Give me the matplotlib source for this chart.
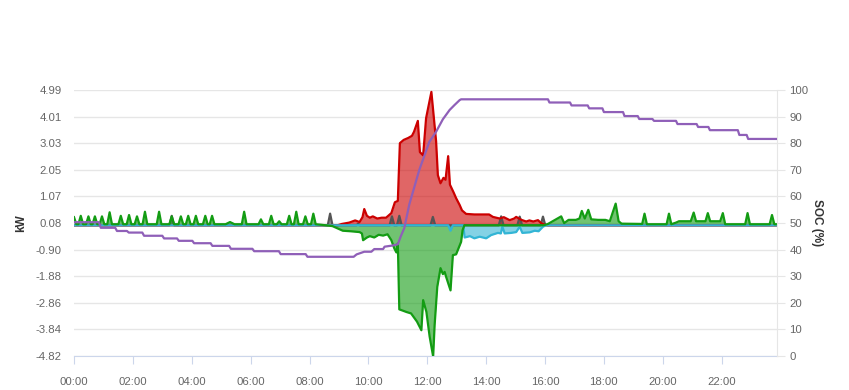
import numpy as np
import matplotlib
matplotlib.use("Agg")
import matplotlib.pyplot as plt

plt.rcParams['font.family'] = ['Liberation Sans', 'DejaVu Sans']

# time in hours, values in kW
red_t = [0, 8.95, 9.10, 9.35, 9.55, 9.70, 9.80, 9.86, 9.95, 10.05, 10.15, 10.30, 10.45, 10.60,
         10.78, 10.90, 11.00, 11.07, 11.20, 11.35, 11.48, 11.55, 11.68, 11.75, 11.86, 11.96,
         12.14, 12.30, 12.36, 12.45, 12.55, 12.62, 12.71, 12.77, 12.90, 12.98, 13.10, 13.18,
         13.32, 13.60, 13.90, 14.10, 14.23, 14.46, 14.60, 14.80, 14.95, 15.02, 15.20, 15.36,
         15.47, 15.60, 15.76, 15.87, 15.99, 16.10, 23.92]
red_v = [0, 0, 0.05, 0.10, 0.18, 0.12, 0.30, 0.60, 0.35, 0.28, 0.33, 0.25, 0.28, 0.28,
         0.45, 0.85, 0.90, 3.03, 3.15, 3.22, 3.30, 3.45, 3.85, 2.70, 2.58, 3.95,
         4.92, 3.10, 1.85, 1.55, 1.75, 1.68, 2.55, 1.50, 1.20, 1.00, 0.75, 0.55,
         0.42, 0.40, 0.40, 0.40, 0.31, 0.25, 0.30, 0.19, 0.25, 0.31, 0.20, 0.14,
         0.18, 0.14, 0.19, 0.08, 0.02, 0, 0]

green_t = [0.00, 0.08, 0.15, 0.23, 0.31, 0.41, 0.49, 0.57, 0.63, 0.71, 0.79, 0.87, 0.95, 1.03,
           1.13, 1.21, 1.29, 1.51, 1.59, 1.67, 1.79, 1.87, 1.95, 2.06, 2.14, 2.22, 2.33, 2.41,
           2.49, 2.81, 2.89, 2.97, 3.24, 3.32, 3.40, 3.55, 3.63, 3.71, 3.80, 3.88, 3.96, 4.06,
           4.14, 4.22, 4.38, 4.46, 4.54, 4.61, 4.69, 4.77, 5.15, 5.30, 5.45, 5.70, 5.78, 5.86,
           6.27, 6.35, 6.43, 6.62, 6.70, 6.78, 6.89, 6.97, 7.05, 7.23, 7.31, 7.39, 7.47, 7.55,
           7.63, 7.78, 7.86, 7.94, 8.05, 8.13, 8.21, 8.40, 8.78, 9.13, 9.40, 9.70, 9.78, 9.82,
           9.95, 10.05, 10.20, 10.35, 10.50, 10.65, 10.78, 10.88, 10.95, 11.00, 11.05, 11.30,
           11.45, 11.65, 11.80, 11.86, 11.97, 12.08, 12.20, 12.25, 12.34, 12.45, 12.53, 12.59,
           12.64, 12.79, 12.87, 12.98, 13.06, 13.15, 13.20, 13.26, 15.95, 16.10, 16.55, 16.65,
           16.80, 17.05, 17.17, 17.25, 17.35, 17.47, 17.57, 17.80, 18.05, 18.20, 18.40, 18.50,
           18.60, 19.30, 19.38, 19.46, 20.13, 20.21, 20.29, 20.45, 20.55, 20.95, 21.05, 21.13,
           21.45, 21.53, 21.61, 21.95, 22.04, 22.12, 22.80, 22.88, 22.96, 23.63, 23.71, 23.79,
           23.92]
green_v = [0.30, 0.04, 0.04, 0.35, 0.04, 0.04, 0.33, 0.04, 0.04, 0.33, 0.04, 0.04, 0.33, 0.04,
           0.04, 0.48, 0.04, 0.04, 0.35, 0.04, 0.04, 0.38, 0.04, 0.04, 0.33, 0.04, 0.04, 0.50,
           0.04, 0.04, 0.50, 0.04, 0.04, 0.33, 0.04, 0.04, 0.33, 0.04, 0.04, 0.35, 0.04, 0.04,
           0.35, 0.04, 0.04, 0.35, 0.04, 0.04, 0.35, 0.04, 0.04, 0.12, 0.04, 0.04, 0.50, 0.04,
           0.04, 0.22, 0.04, 0.04, 0.35, 0.04, 0.04, 0.15, 0.04, 0.04, 0.35, 0.04, 0.04, 0.50,
           0.04, 0.04, 0.33, 0.04, 0.04, 0.43, 0.04, 0.02, -0.03, -0.20, -0.22, -0.25, -0.30, -0.55,
           -0.45, -0.40, -0.45, -0.35, -0.38, -0.33, -0.55, -0.85, -1.00, -0.67, -3.10, -3.20,
           -3.25, -3.55, -3.87, -2.76, -3.19, -4.10, -4.84, -3.68, -2.27, -1.58, -1.80, -1.72,
           -1.90, -2.40, -1.10, -1.07, -0.85, -0.61, -0.18, 0.0, 0.0, 0.05, 0.33, 0.08,
           0.20, 0.20, 0.25, 0.53, 0.25, 0.57, 0.22, 0.20, 0.20, 0.15, 0.80, 0.15,
           0.06, 0.05, 0.43, 0.04, 0.04, 0.43, 0.04, 0.10, 0.15, 0.15, 0.47, 0.15,
           0.15, 0.45, 0.15, 0.15, 0.45, 0.04, 0.04, 0.45, 0.04, 0.04, 0.38, 0.04,
           0.04]

cyan_t = [0, 12.71, 12.79, 12.87, 13.22, 13.27, 13.45, 13.60, 13.78, 14.00, 14.17, 14.40, 14.50,
          14.55, 14.63, 14.85, 15.02, 15.14, 15.23, 15.48, 15.65, 15.78, 15.93, 16.04, 23.92]
cyan_v = [0, 0, -0.20, 0, 0, -0.45, -0.40, -0.48, -0.42, -0.48, -0.36, -0.28, -0.30,
          -0.05, -0.30, -0.28, -0.25, -0.05, -0.28, -0.26, -0.20, -0.22, -0.05, 0, 0]

gray_t = [0, 3.24, 3.32, 3.40, 8.62, 8.70, 8.78, 9.60, 9.65, 9.70, 10.72, 10.80, 10.88,
          10.97, 11.05, 11.13, 12.11, 12.19, 12.27, 14.43, 14.51, 14.59, 15.06, 15.14, 15.22,
          15.85, 15.93, 16.01, 23.92]
gray_v = [0, 0, 0.35, 0, 0, 0.43, 0, 0, 0.06, 0, 0, 0.33, 0,
          0, 0.35, 0, 0, 0.31, 0, 0, 0.33, 0, 0, 0.32, 0,
          0, 0.32, 0, 0]

# state of charge, %
soc_t = [0, 0.85, 0.91, 1.40, 1.46, 1.80, 1.86, 2.32, 2.38, 3.00, 3.06, 3.50, 3.56, 4.02,
         4.08, 4.64, 4.70, 5.27, 5.33, 6.06, 6.12, 6.96, 7.02, 7.87, 7.93, 9.50, 9.60, 9.86,
         10.10, 10.20, 10.50, 10.55, 10.80, 11.00, 11.10, 11.22, 11.39, 11.73, 12.07, 12.30,
         12.53, 12.76, 12.93, 13.10, 13.15, 16.10, 16.15, 16.85, 16.90, 17.45, 17.50, 17.95,
         18.00, 18.65, 18.70, 19.15, 19.20, 19.65, 19.70, 20.45, 20.50, 21.15, 21.20, 21.55,
         21.60, 22.55, 22.60, 22.85, 22.90, 23.92]
soc_v = [50.3, 50.3, 48.2, 48.2, 47.0, 47.0, 46.4, 46.4, 45.2, 45.2, 44.2, 44.2, 43.3, 43.3,
         42.4, 42.4, 41.4, 41.4, 40.3, 40.3, 39.4, 39.4, 38.3, 38.3, 37.3, 37.3, 38.2, 39.2,
         39.2, 40.2, 40.2, 41.1, 41.5, 42.0, 45.0, 48.1, 57.0, 70.0, 80.5, 84.3,
         89.0, 92.5, 94.4, 96.2, 96.5, 96.5, 95.3, 95.3, 94.2, 94.2, 93.1, 93.1,
         91.7, 91.7, 90.2, 90.2, 89.1, 89.1, 88.4, 88.4, 87.2, 87.2, 86.1, 86.1,
         84.9, 84.9, 83.1, 83.1, 81.6, 81.6]

kw_ticks = [-4.82, -3.84, -2.86, -1.88, -0.90, 0.08, 1.07, 2.05, 3.03, 4.01, 4.99]
kw_labels = ['-4.82', '-3.84', '-2.86', '-1.88', '-0.90', '0.08', '1.07', '2.05', '3.03', '4.01', '4.99']
hour_ticks = [0, 2, 4, 6, 8, 10, 12, 14, 16, 18, 20, 22]
hour_labels = ['00:00', '02:00', '04:00', '06:00', '08:00', '10:00', '12:00', '14:00',
               '16:00', '18:00', '20:00', '22:00']

fig = plt.figure(figsize=(8.49, 3.9), dpi=100)
ax = fig.add_axes([74/849, 34/390, 703/849, 266/390])
ax2 = ax.twinx()

ax.set_xlim(0, 23.88)
ax.set_ylim(-4.82, 4.99)
ax2.set_ylim(0, 100)

for t, v, c in [(gray_t, gray_v, '#555555'), (red_t, red_v, '#cc0000'),
                (cyan_t, cyan_v, '#33b5d5'), (green_t, green_v, '#139c13')]:
    ax.fill_between(t, 0, v, color=c, alpha=0.6, lw=0, zorder=2)
    ax.plot(t, v, color=c, lw=1.6, zorder=3)

ax2.plot(soc_t, soc_v, color='#8f5fb8', lw=1.6, zorder=5)

ax.set_yticks(kw_ticks)
ax.set_yticklabels(kw_labels)
ax.grid(axis='y', color='#e6e6e6', lw=1)
ax.set_axisbelow(True)
ax.set_xticks(hour_ticks)
ax.set_xticklabels(hour_labels)
ax.tick_params(axis='y', length=0, pad=9, labelsize=8.2, labelcolor='#666666')
ax.tick_params(axis='x', length=6, color='#ccd6eb', labelsize=8.2, labelcolor='#666666', pad=9)
ax2.set_yticks(range(0, 101, 10))
ax2.tick_params(axis='y', length=6, color='#e6e6e6', labelsize=8.2, labelcolor='#666666', pad=3)

for a in (ax, ax2):
    a.spines['top'].set_visible(False)
    a.spines['left'].set_visible(False)
ax.spines['right'].set_visible(False)
ax2.spines['bottom'].set_visible(False)
ax.spines['bottom'].set_color('#ccd6eb')
ax2.spines['right'].set_color('#e6e6e6')

ax.set_ylabel('kW', fontsize=8.5, fontweight='bold', color='#333333', labelpad=6)
ax2.set_ylabel('SOC (%)', fontsize=8.5, fontweight='bold', color='#333333', rotation=270, labelpad=10)

fig.savefig('out.png', dpi=100)
